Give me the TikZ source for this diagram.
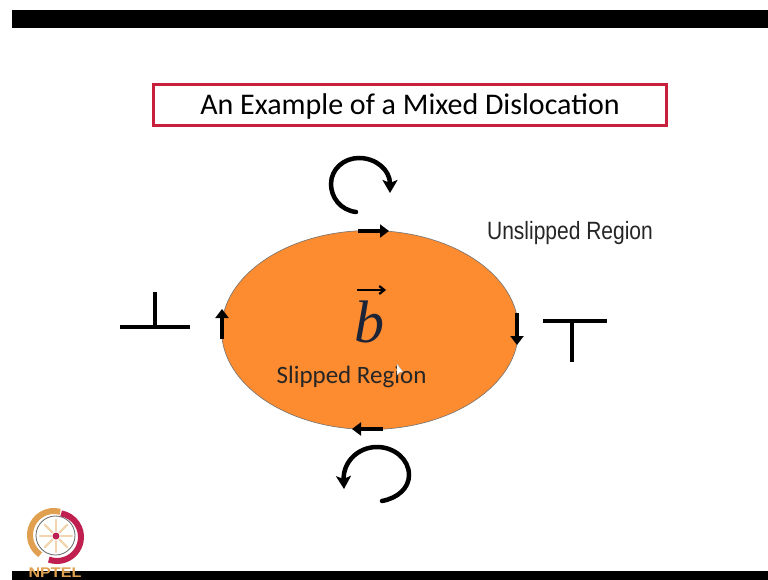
\documentclass[tikz,border=0pt]{standalone}
\usepackage{fontspec}
\setmainfont{Carlito}
\newfontfamily\narrowf{Liberation Sans}
\newfontfamily\serifb{Liberation Serif}
\usetikzlibrary{arrows.meta,shapes.geometric}
\definecolor{orangefill}{HTML}{FD8B30}
\definecolor{titlered}{HTML}{C8203C}
\definecolor{logoorange}{HTML}{E0A050}
\definecolor{logored}{HTML}{C02050}
\definecolor{bcol}{HTML}{1C2438}
\tikzset{
  x=1pt,y=-1pt,
  shortarrow/.style={line width=4pt,-{Triangle[length=9pt,width=13pt]}},
  circarrow/.style={line width=4.5pt,line cap=round,-{Stealth[length=13pt,width=15pt,inset=3pt]}},
  symb/.style={line width=4pt},
  label/.style={inner sep=0pt,text=black!85},
  petal/.style={line width=2.4pt,line cap=round,color=logoorange!45!white}
}
\begin{document}
\begin{tikzpicture}
\useasboundingbox (0,0) rectangle (768,580);
\fill[white] (0,0) rectangle (768,580);
% slide bars
\fill[black] (12,10) rectangle (768,28);
\fill[black] (12,571) rectangle (768,580);
% title
\node[draw=titlered,line width=2.2pt,minimum width=513pt,minimum height=41pt,inner sep=0pt] (title) at (410,105) {};
\node[inner sep=0pt,font=\fontsize{30}{34}\selectfont] (titletext) at (410,106.5) {An Example of a Mixed Dislocation};
% ellipse
\node[ellipse,draw=black!55,line width=0.6pt,fill=orangefill,minimum width=297pt,minimum height=199pt,inner sep=0pt] (slip) at (370,330) {};
\node[inner sep=0pt,font=\fontsize{60}{60}\serifb\itshape\selectfont,text=bcol] (bvec) at (369,322) {b};
\coordinate (vl) at (357,290);
\coordinate (vr) at (386,290);
\draw[line width=2.2pt,-{Straight Barb[length=5pt,width=8pt]}] (vl) -- (vr);
\node[label,font=\fontsize{25}{30}\selectfont] (sl) at (351.5,376.5) {Slipped Region};
\node[label,font=\fontsize{25}{30}\narrowf\selectfont,xscale=0.84] (ul) at (570,233.5) {Unslipped Region};
\fill[white,draw=black!30,line width=0.3pt] (397,364) -- (397,375) -- (400,372) -- (403,372) -- cycle;
% tangent arrows
\coordinate (t1) at (358,231); \coordinate (t2) at (389,231);
\draw[shortarrow] (t1) -- (t2);
\coordinate (b1) at (383,429); \coordinate (b2) at (352,429);
\draw[shortarrow] (b1) -- (b2);
\coordinate (l1) at (222,339); \coordinate (l2) at (222,309);
\draw[shortarrow] (l1) -- (l2);
\coordinate (r1) at (517,313); \coordinate (r2) at (517,345);
\draw[shortarrow] (r1) -- (r2);
% circular arrows
\draw[circarrow] (356,212) .. controls (340,210) and (331,197) .. (331,184) .. controls (331,169) and (344,158) .. (359,158) .. controls (376,158) and (390,170) .. (390,193);
\draw[circarrow] (382,501) .. controls (398,498) and (409,488) .. (409,475) .. controls (409,459) and (394,447) .. (377,447) .. controls (358,447) and (343,462) .. (344,489);
% dislocation symbols
\coordinate (a1) at (120,327); \coordinate (a2) at (190,327);
\coordinate (a3) at (155,327); \coordinate (a4) at (155,292);
\draw[symb] (a1) -- (a2); \draw[symb] (a3) -- (a4);
\coordinate (c1) at (543,321); \coordinate (c2) at (607,321);
\coordinate (c3) at (572,321); \coordinate (c4) at (572,362);
\draw[symb] (c1) -- (c2); \draw[symb] (c3) -- (c4);
% logo (with y downward, angle 270 is the top of the arc)
\draw[logored,line width=6pt] ([shift={(280:24)}]57,537) arc (280:470:24);
\draw[logoorange,line width=6pt] ([shift={(285:24)}]54,535) arc (285:125:24);
\draw[black!60,line width=0.8pt] (55.5,535.5) circle (19.5);
\foreach \a in {0,45,...,315}{\draw[petal] ([shift={(\a:5)}]56,536) -- ++(\a:11);}
\fill[logored] (56,536) circle (3.5);
\node[inner sep=0pt,font=\fontsize{14}{14}\narrowf\bfseries\selectfont,text=logoorange,xscale=1.15] (nptel) at (55,572.5) {NPTEL};
\end{tikzpicture}
\end{document}
